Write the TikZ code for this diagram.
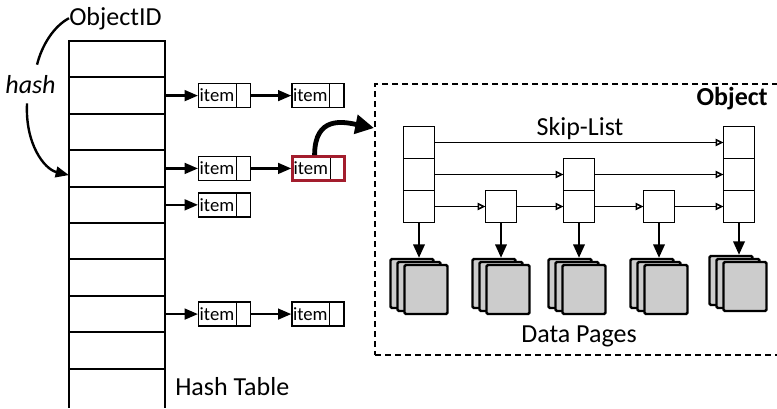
\documentclass[tikz,border=0pt]{standalone}
\usepackage{fontspec}
\setmainfont{Carlito}
\usetikzlibrary{arrows.meta,positioning}

\definecolor{itemred}{RGB}{163,29,45}

\tikzset{
    cell/.style={draw,line width=1.5pt,minimum width=72pt,minimum height=27.3pt,inner sep=0pt,outer sep=0pt},
    item/.style={draw,line width=1pt,minimum width=39pt,minimum height=18pt,text width=37.5pt,
        inner xsep=0.75pt,inner ysep=0pt,align=left,font=\fontsize{14}{14}\selectfont,
        path picture={\draw[black,line width=1pt]
            ([xshift=-10.7pt]path picture bounding box.north east) --
            ([xshift=-10.7pt]path picture bounding box.south east);}},
    hot/.style={draw=itemred,line width=1.9pt},
    slot/.style={draw,line width=1.4pt,minimum width=23.25pt,minimum height=24pt,inner sep=0pt,outer sep=0pt},
    page/.style={draw,line width=1.8pt,rounded corners=1pt,fill=gray!40,minimum width=32.25pt,minimum height=36.75pt,inner sep=0pt},
    link/.style={line width=1.8pt,-{Triangle[length=10pt,width=8pt]}},
    drop/.style={line width=1.7pt,-{Triangle[length=10pt,width=8.5pt]}},
    skip/.style={line width=1.2pt,-{Triangle[open,length=6pt,width=5.5pt]}},
    txt/.style={font=\fontsize{19.5}{20}\selectfont,inner sep=0pt},
}

\begin{document}
\begin{tikzpicture}[x=0.75pt,y=-0.75pt]
    \useasboundingbox (0,0) rectangle (777,408);

    % Hash table
    \foreach \i in {0,...,8}
        \node[cell] (r\i) at (117,59.2+36.41*\i) {};
    \draw[line width=1.5pt] (r8.south west) -- (69,408) (r8.south east) -- (165,408);
    \node[txt,anchor=base west] (tbl) at (175,395) {Hash Table};

    % Key and hash function
    \node[txt,anchor=base west] (objid) at (69,25) {ObjectID};
    \node[txt,anchor=base,font=\fontsize{19.5}{20}\selectfont\itshape] (hash) at (30.5,93) {hash};
    \draw[line width=1.8pt] (objid.west) .. controls +(-15,8) and +(5,-20) .. ([xshift=4.9pt,yshift=7.5pt]hash.north);
    \draw[link] ([xshift=-2.6pt,yshift=-7.5pt]hash.south) .. controls +(-2,40) and +(-25,-6) .. ([yshift=-5pt]r3.west);

    % Buckets
    \node[item,right=24.75pt of r1] (it1a) {item};
    \node[item,right=30pt of it1a] (it1b) {item};
    \node[item,right=24.75pt of r3] (it3a) {item};
    \node[item,hot,right=30pt of it3a] (it3b) {item};
    \node[item,right=24.75pt of r4] (it4a) {item};
    \node[item,right=24.75pt of r7] (it7a) {item};
    \node[item,right=30pt of it7a] (it7b) {item};

    \foreach \r/\a in {r1/it1a, r3/it3a, r4/it4a, r7/it7a}
        \draw[link] (\r.east) -- (\a.west);
    \foreach \a/\b in {it1a/it1b, it3a/it3b, it7a/it7b}
        \draw[link] (\a.east) -- (\b.west);

    % Object box
    \node[draw,dash pattern=on 4.5pt off 3pt,line width=1.8pt,minimum width=312pt,minimum height=203.25pt,
        anchor=north west] (obj) at (374,83) {};
    \node[txt,anchor=base east,font=\fontsize{19.5}{20}\selectfont\bfseries] (objlbl) at (768,105) {Object};
    \coordinate (objin) at (374,128);
    \draw[line width=3.6pt,-{Triangle[length=14pt,width=14pt]}]
        ([xshift=-3pt]it3b.north) .. controls +(0,-40) and +(-30,-6) .. (objin);

    % Skip-list
    \node[slot] (s1a) at (419,142.5) {};
    \node[slot,below=0pt of s1a] (s1b) {};
    \node[slot,below=0pt of s1b] (s1c) {};
    \node[slot] (s2c) at (501,206.5) {};
    \node[slot] (s3b) at (579,174.5) {};
    \node[slot,below=0pt of s3b] (s3c) {};
    \node[slot] (s4c) at (659,206.5) {};
    \node[slot] (s5a) at (739,142.5) {};
    \node[slot,below=0pt of s5a] (s5b) {};
    \node[slot,below=0pt of s5b] (s5c) {};
    \node[txt,anchor=base] (skl) at (580,135) {Skip-List};

    \foreach \a/\b in {s1a/s5a, s1b/s3b, s3b/s5b, s1c/s2c, s2c/s3c, s3c/s4c, s4c/s5c}
        \draw[skip] (\a.east) -- (\b.west);

    % Data pages
    \foreach \k/\x/\y in {1/419/283.5, 2/501/283.5, 3/577/283.5, 4/659/283.5, 5/738/280.5} {
        \node[page] (pb\k) at (\x-7,\y) {};
        \node[page] (pm\k) at (\x,\y+3) {};
        \node[page] (pf\k) at (\x+7,\y+6) {};
    }
    \foreach \s/\k in {s1c/1, s2c/2, s3c/3, s4c/4, s5c/5}
        \draw[drop] (\s.south) -- (\s.south |- pb\k.north);
    \node[txt,anchor=base] (dp) at (579,342) {Data Pages};
\end{tikzpicture}
\end{document}
